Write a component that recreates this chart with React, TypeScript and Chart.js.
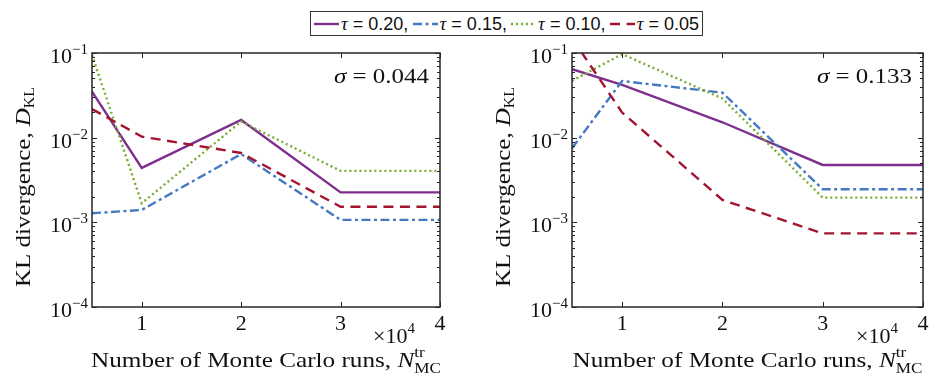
import React, { useEffect, useRef } from 'react';
import { Chart, registerables } from 'chart.js';

Chart.register(...registerables);

// ---------- data ----------
const MC_RUNS = [5000, 10000, 20000, 30000, 40000];
const X_TICKS = [10000, 20000, 30000, 40000];
const X_TICK_LABELS = ['1', '2', '3', '4'];
const Y_DECADES = [-1, -2, -3, -4];
const TAU_LABELS = ['0.20', '0.15', '0.10', '0.05'];

const LEFT_SIGMA = '0.044';
const LEFT_TAU_020 = [0.035, 0.0044, 0.0162, 0.00226, 0.00226];
const LEFT_TAU_015 = [0.00128, 0.0014, 0.0064, 0.00107, 0.00107];
const LEFT_TAU_010 = [0.095, 0.00168, 0.0155, 0.00405, 0.00405];
const LEFT_TAU_005 = [0.0218, 0.0103, 0.0066, 0.00153, 0.00153];

const RIGHT_SIGMA = '0.133';
const RIGHT_TAU_020 = [0.0645, 0.042, 0.0152, 0.00476, 0.00476];
const RIGHT_TAU_015 = [0.0075, 0.0467, 0.034, 0.00246, 0.00246];
const RIGHT_TAU_010 = [0.047, 0.097, 0.029, 0.00196, 0.00196];
const RIGHT_TAU_005 = [0.15, 0.0198, 0.00184, 0.00074, 0.00074];

// ---------- styles ----------
const SERIES_COLORS = ['#7E2F8E', '#4479C4', '#77AC30', '#A2142F'];
const SERIES_DASHES: number[][] = [[], [9, 3.5, 3, 3.5], [2, 3], [10, 6.5]];
const SERIES_ORDER = [3, 2, 1, 0];
const LINE_WIDTH = 2.4;
const SERIF = '"Liberation Serif", "Times New Roman", serif';
const SANS = '"Liberation Sans", Arial, sans-serif';
const AXIS_COLOR = '#262626';

type Run = { text: string; size: number; italic?: boolean; dy?: number; adv?: boolean };

function fontOf(r: Run) {
  return `${r.italic ? 'italic ' : ''}${r.size}px ${SERIF}`;
}

function measureRuns(ctx: CanvasRenderingContext2D, runs: Run[]) {
  let w = 0;
  let pending = 0;
  for (const r of runs) {
    ctx.font = fontOf(r);
    const rw = ctx.measureText(r.text).width;
    if (r.adv === false) pending = Math.max(pending, rw);
    else {
      w += Math.max(rw, pending);
      pending = 0;
    }
  }
  return w + pending;
}

function drawRuns(
  ctx: CanvasRenderingContext2D,
  runs: Run[],
  x: number,
  y: number,
  align: 'left' | 'center' | 'right',
  targetW?: number
) {
  const nat = measureRuns(ctx, runs);
  const sx = targetW ? targetW / nat : 1;
  const total = nat * sx;
  const start = align === 'left' ? x : align === 'center' ? x - total / 2 : x - total;
  ctx.save();
  ctx.translate(start, y);
  ctx.scale(sx, 1);
  ctx.textAlign = 'left';
  ctx.textBaseline = 'alphabetic';
  ctx.fillStyle = '#111';
  let cx = 0;
  let pending = 0;
  for (const r of runs) {
    ctx.font = fontOf(r);
    const rw = ctx.measureText(r.text).width;
    ctx.fillText(r.text, cx, r.dy || 0);
    if (r.adv === false) pending = Math.max(pending, rw);
    else {
      cx += Math.max(rw, pending);
      pending = 0;
    }
  }
  ctx.restore();
}

function makeDecor(sigma: string) {
  return {
    id: 'panelDecor',
    afterDraw(chart: any) {
      const ctx: CanvasRenderingContext2D = chart.ctx;
      const ca = chart.chartArea;
      const xs = chart.scales.x;
      const ys = chart.scales.y;
      ctx.save();
      // border
      ctx.strokeStyle = AXIS_COLOR;
      ctx.lineWidth = 1.5;
      ctx.strokeRect(ca.left, ca.top, ca.right - ca.left, ca.bottom - ca.top);
      // y ticks (major + minor), both sides
      ctx.lineWidth = 1;
      const minE = Math.min(...Y_DECADES);
      const maxE = Math.max(...Y_DECADES);
      for (let e = minE; e <= maxE; e++) {
        for (let m = 1; m <= 9; m++) {
          if (e === maxE && m > 1) break;
          const v = m * Math.pow(10, e);
          const py = Math.round(ys.getPixelForValue(v)) + 0.5;
          const len = m === 1 ? 5 : 3;
          ctx.beginPath();
          ctx.moveTo(ca.left, py);
          ctx.lineTo(ca.left + len, py);
          ctx.moveTo(ca.right, py);
          ctx.lineTo(ca.right - len, py);
          ctx.stroke();
        }
      }
      // x ticks top & bottom
      for (const v of X_TICKS) {
        const px = Math.round(xs.getPixelForValue(v)) + 0.5;
        ctx.beginPath();
        ctx.moveTo(px, ca.bottom);
        ctx.lineTo(px, ca.bottom - 5);
        ctx.moveTo(px, ca.top);
        ctx.lineTo(px, ca.top + 5);
        ctx.stroke();
      }
      // y tick labels
      for (const e of Y_DECADES) {
        const py = ys.getPixelForValue(Math.pow(10, e));
        drawRuns(
          ctx,
          [
            { text: '10', size: 22 },
            { text: '\u2212' + Math.abs(e), size: 15, dy: -9 },
          ],
          ca.left - 4,
          py + 10,
          'right'
        );
      }
      // x tick labels
      X_TICKS.forEach((v, i) => {
        const px = xs.getPixelForValue(v);
        drawRuns(ctx, [{ text: X_TICK_LABELS[i], size: 22 }], px, ca.bottom + 23, 'center');
      });
      // x10^4
      drawRuns(
        ctx,
        [
          { text: '\u00d710', size: 22 },
          { text: '4', size: 15, dy: -10 },
        ],
        ca.right - 25,
        ca.bottom + 36,
        'right'
      );
      // x title
      drawRuns(
        ctx,
        [
          { text: 'Number of Monte Carlo runs, ', size: 22 },
          { text: 'N', size: 22, italic: true },
          { text: 'tr', size: 15, dy: -10, adv: false },
          { text: 'MC', size: 15, dy: 6 },
        ],
        (ca.left + ca.right) / 2,
        ca.bottom + 60,
        'center',
        350
      );
      // y title (rotated)
      ctx.save();
      ctx.translate(ca.left - 62, (ca.top + ca.bottom) / 2 + 7);
      ctx.rotate(-Math.PI / 2);
      drawRuns(
        ctx,
        [
          { text: 'KL divergence, ', size: 22 },
          { text: 'D', size: 22, italic: true },
          { text: 'KL', size: 14, dy: 4 },
        ],
        0,
        0,
        'center',
        200
      );
      ctx.restore();
      // sigma annotation
      drawRuns(
        ctx,
        [
          { text: '\u03c3', size: 22, italic: true },
          { text: ' = ' + sigma, size: 22 },
        ],
        ca.right - 11,
        ca.top + 30,
        'right',
        95
      );
      ctx.restore();
    },
  };
}

type PanelProps = {
  left: number;
  width: number;
  padLeft: number;
  padRight: number;
  series: number[][];
  sigma: string;
};

function Panel({ left, width, padLeft, padRight, series, sigma }: PanelProps) {
  const ref = useRef<HTMLCanvasElement | null>(null);
  useEffect(() => {
    if (!ref.current) return;
    const chart = new Chart(ref.current, {
      type: 'line',
      data: {
        datasets: series.map((vals, si) => ({
          label: TAU_LABELS[si],
          data: MC_RUNS.map((x, i) => ({ x, y: vals[i] })),
          borderColor: SERIES_COLORS[si],
          borderWidth: LINE_WIDTH,
          borderDash: SERIES_DASHES[si],
          borderCapStyle: 'butt',
          pointRadius: 0,
          fill: false,
          tension: 0,
          order: SERIES_ORDER[si],
        })),
      },
      options: {
        responsive: false,
        animation: false,
        devicePixelRatio: 1,
        events: [],
        layout: { padding: { left: padLeft, right: padRight, top: 53, bottom: 67 } },
        plugins: { legend: { display: false }, tooltip: { enabled: false } },
        scales: {
          x: { type: 'linear', min: 5000, max: 40000, display: false },
          y: { type: 'logarithmic', min: 1e-4, max: 1e-1, display: false },
        },
      } as any,
      plugins: [makeDecor(sigma)],
    });
    return () => chart.destroy();
  }, []);
  return (
    <canvas
      ref={ref}
      width={width}
      height={374}
      style={{ position: 'absolute', left, top: 0, width, height: 374 }}
    />
  );
}

function LegendItem({ i }: { i: number }) {
  const dash = SERIES_DASHES[i].join(' ');
  return (
    <div style={{ display: 'flex', alignItems: 'center' }}>
      <svg width={25} height={6} style={{ marginRight: 2 }}>
        <line
          x1={0}
          y1={3}
          x2={25}
          y2={3}
          stroke={SERIES_COLORS[i]}
          strokeWidth={LINE_WIDTH}
          strokeDasharray={dash || undefined}
        />
      </svg>
      <span style={{ font: `18px ${SANS}`, color: '#111', whiteSpace: 'pre' }}>
        <span style={{ font: `italic 19px ${SERIF}` }}>{'\u03c4'}</span>
        {' = ' + TAU_LABELS[i] + (i < TAU_LABELS.length - 1 ? ',' : '')}
      </span>
    </div>
  );
}

export default function App() {
  return (
    <div
      style={{
        position: 'absolute',
        left: 0,
        top: 0,
        width: 935,
        height: 374,
        background: '#fff',
        overflow: 'hidden',
      }}
    >
      <Panel
        left={0}
        width={467}
        padLeft={92}
        padRight={27}
        series={[LEFT_TAU_020, LEFT_TAU_015, LEFT_TAU_010, LEFT_TAU_005]}
        sigma={LEFT_SIGMA}
      />
      <Panel
        left={467}
        width={468}
        padLeft={105}
        padRight={12}
        series={[RIGHT_TAU_020, RIGHT_TAU_015, RIGHT_TAU_010, RIGHT_TAU_005]}
        sigma={RIGHT_SIGMA}
      />
      <div
        style={{
          position: 'absolute',
          left: 310,
          top: 11,
          width: 393,
          height: 25,
          boxSizing: 'border-box',
          border: '1.5px solid #333',
          background: '#fff',
          display: 'flex',
          alignItems: 'center',
          justifyContent: 'space-between',
          padding: '0 3px',
        }}
      >
        {TAU_LABELS.map((_, i) => (
          <LegendItem key={i} i={i} />
        ))}
      </div>
    </div>
  );
}
